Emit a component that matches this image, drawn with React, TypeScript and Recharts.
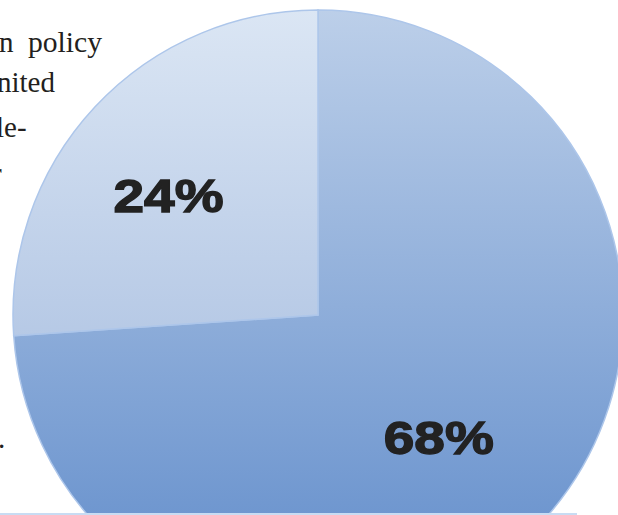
import React from 'react';
import { PieChart, Pie, Cell } from 'recharts';

// slice values (shown as percent labels)
const sliceNames = ['Share A', 'Share B'];
const sliceValues = [68, 24];
const sliceLabels = ['68%', '24%'];

// fragments of the surrounding page text (cropped at the left edge)
const pageText = ['n', 'policy', 'nited', 'le-', 'r', '.'];

const pieData = sliceNames.map((name, i) => ({ name, value: sliceValues[i], label: sliceLabels[i] }));

const FILLS = ['url(#gradBig)', 'url(#gradSmall)'];
const LABEL_RADIUS = [0.56, 0.63];
const LABEL_NUDGE = [{ dx: -4, dy: 5 }, { dx: -9, dy: 11 }];
const RAD = Math.PI / 180;

const renderLabel = (props: any) => {
  const { cx, cy, midAngle, outerRadius, index } = props;
  const r = outerRadius * LABEL_RADIUS[index];
  const x = cx + r * Math.cos(-midAngle * RAD) + LABEL_NUDGE[index].dx;
  const y = cy + r * Math.sin(-midAngle * RAD) + LABEL_NUDGE[index].dy;
  return (
    <text
      x={x}
      y={y + 17}
      textAnchor="middle"
      fontFamily="'Liberation Sans', Arial, sans-serif"
      fontWeight="bold"
      fontSize={47}
      textLength={110}
      lengthAdjust="spacingAndGlyphs"
      fill="#222222"
      stroke="#222222"
      strokeWidth={1.4}
    >
      {pieData[index].label}
    </text>
  );
};

const App: React.FC = () => {
  const serif = "'Liberation Serif', 'Times New Roman', serif";
  return (
    <div style={{ position: 'absolute', left: 0, top: 0, width: 618, height: 515, overflow: 'hidden', background: '#ffffff' }}>
      <svg width={618} height={515} style={{ position: 'absolute', left: 0, top: 0 }}>
        <g fontFamily={serif} fontSize={29} fill="#231f20">
          <text x={-1} y={52}>{pageText[0]}</text>
          <text x={28} y={52} textLength={74} lengthAdjust="spacingAndGlyphs">{pageText[1]}</text>
          <text x={-3} y={92}>{pageText[2]}</text>
          <text x={-4} y={137}>{pageText[3]}</text>
          <text x={-8} y={183}>{pageText[4]}</text>
          <text x={-2} y={448}>{pageText[5]}</text>
        </g>
      </svg>
      <div style={{ position: 'absolute', left: 0, top: 0 }}>
        <PieChart width={618} height={515} margin={{ top: 0, right: 0, bottom: 0, left: 0 }}>
          <defs>
            <linearGradient id="gradBig" gradientUnits="userSpaceOnUse" x1={0} y1={10} x2={0} y2={620}>
              <stop offset="0%" stopColor="#bccfe9" />
              <stop offset="100%" stopColor="#5f8bca" />
            </linearGradient>
            <linearGradient id="gradSmall" gradientUnits="userSpaceOnUse" x1={0} y1={10} x2={0} y2={620}>
              <stop offset="0%" stopColor="#dbe6f4" />
              <stop offset="100%" stopColor="#96b0d9" />
            </linearGradient>
          </defs>
          <Pie
            data={pieData}
            dataKey="value"
            nameKey="name"
            cx={318}
            cy={315}
            outerRadius={305}
            startAngle={90}
            endAngle={-270}
            labelLine={false}
            label={renderLabel}
            isAnimationActive={false}
          >
            {pieData.map((entry, index) => (
              <Cell key={`cell-${index}`} fill={FILLS[index]} stroke="#adc6ea" strokeWidth={1.5} />
            ))}
          </Pie>
        </PieChart>
      </div>
      <div style={{ position: 'absolute', left: 0, top: 513, width: 577, height: 2, background: '#c8dcf3' }} />
    </div>
  );
};

export default App;
